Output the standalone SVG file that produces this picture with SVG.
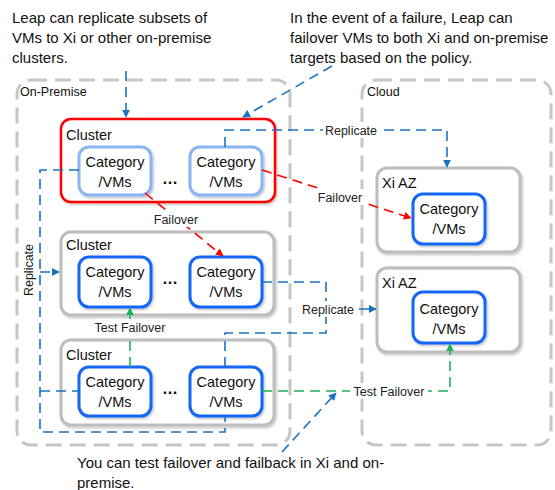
<svg xmlns="http://www.w3.org/2000/svg" width="555" height="490" viewBox="0 0 555 490">
<defs>
<style>
text{font-family:"Liberation Sans",Arial,sans-serif;fill:#111}
.note{font-size:15px}
.area{fill:none;stroke:#c6c6c6;stroke-width:3;stroke-dasharray:16 8}
.alabel{font-size:12.5px}
.cl{fill:#fff;stroke:#bdbdbd;stroke-width:3;filter:url(#sh)}
.clred{fill:#fff;stroke:#ff0000;stroke-width:2.5;filter:url(#sh)}
.vm{fill:#fff;stroke:#1466f5;stroke-width:3;filter:url(#sh)}
.vml{fill:#fff;stroke:#8ab4f2;stroke-width:3;filter:url(#sh)}
.t14{font-size:14.5px}
.ctr{text-anchor:middle}
.dots{font-size:16px;font-weight:bold;text-anchor:middle}
.b{fill:none;stroke:#1a73c2;stroke-width:1.6;stroke-dasharray:10 6}
.r{fill:none;stroke:#ff0000;stroke-width:1.6;stroke-dasharray:10 6}
.g{fill:none;stroke:#1db356;stroke-width:1.6;stroke-dasharray:10 6}
.lbl{font-size:12.5px;text-anchor:middle;fill:#222}
.bg{fill:#fff}
</style>
<filter id="sh" x="-10%" y="-10%" width="125%" height="130%">
<feDropShadow dx="1.2" dy="1.5" stdDeviation="1" flood-color="#000" flood-opacity="0.25"/>
</filter>
<marker id="ab" viewBox="0 0 10 10" refX="9" refY="5" markerWidth="8" markerHeight="8" markerUnits="userSpaceOnUse" orient="auto"><path d="M0,0 L10,5 L0,10 z" fill="#1a73c2"/></marker>
<marker id="ar" viewBox="0 0 10 10" refX="9" refY="5" markerWidth="8" markerHeight="8" markerUnits="userSpaceOnUse" orient="auto"><path d="M0,0 L10,5 L0,10 z" fill="#ff0000"/></marker>
<marker id="ag" viewBox="0 0 10 10" refX="9" refY="5" markerWidth="8" markerHeight="8" markerUnits="userSpaceOnUse" orient="auto"><path d="M0,0 L10,5 L0,10 z" fill="#1db356"/></marker>
</defs>

<g id="notes">
<text class="note" x="12" y="23">Leap can replicate subsets of</text>
<text class="note" x="12" y="43">VMs to Xi or other on-premise</text>
<text class="note" x="12" y="63">clusters.</text>
<text class="note" x="290" y="23">In the event of a failure, Leap can</text>
<text class="note" x="290" y="43">failover VMs to both Xi and on-premise</text>
<text class="note" x="290" y="63">targets based on the policy.</text>
<text class="note" x="77" y="468">You can test failover and failback in Xi and on-</text>
<text class="note" x="77" y="488">premise.</text>
</g>

<g id="on-premise">
<rect class="area" x="17" y="80" width="273" height="365" rx="14"/>
<text class="alabel" x="20" y="96">On-Premise</text>
</g>
<g id="cloud">
<rect class="area" x="362" y="80" width="189" height="365" rx="14"/>
<text class="alabel" x="367" y="96">Cloud</text>
</g>

<g id="cluster1">
<rect class="clred" x="61" y="119" width="214" height="83" rx="10"/>
<text class="t14" x="66" y="140">Cluster</text>
<rect class="vml" x="79" y="147" width="72" height="48" rx="10"/>
<text class="t14 ctr" x="115" y="167">Category</text>
<text class="t14 ctr" x="115" y="187">/VMs</text>
<text class="dots" x="170" y="184">…</text>
<rect class="vml" x="190" y="147" width="72" height="48" rx="10"/>
<text class="t14 ctr" x="226" y="167">Category</text>
<text class="t14 ctr" x="226" y="187">/VMs</text>
</g>

<g id="cluster2">
<rect class="cl" x="61" y="232" width="213" height="83" rx="10"/>
<text class="t14" x="66" y="250">Cluster</text>
<rect class="vm" x="79" y="257" width="72" height="50" rx="10"/>
<text class="t14 ctr" x="115" y="277">Category</text>
<text class="t14 ctr" x="115" y="297">/VMs</text>
<text class="dots" x="170" y="284">…</text>
<rect class="vm" x="190" y="257" width="72" height="50" rx="10"/>
<text class="t14 ctr" x="226" y="277">Category</text>
<text class="t14 ctr" x="226" y="297">/VMs</text>
</g>

<g id="cluster3">
<rect class="cl" x="61" y="340" width="213" height="85" rx="10"/>
<text class="t14" x="66" y="360">Cluster</text>
<rect class="vm" x="79" y="367" width="72" height="49" rx="10"/>
<text class="t14 ctr" x="115" y="387">Category</text>
<text class="t14 ctr" x="115" y="407">/VMs</text>
<text class="dots" x="170" y="394">…</text>
<rect class="vm" x="190" y="367" width="72" height="49" rx="10"/>
<text class="t14 ctr" x="226" y="387">Category</text>
<text class="t14 ctr" x="226" y="407">/VMs</text>
</g>

<g id="xiaz1">
<rect class="cl" x="377" y="168" width="143" height="84" rx="10"/>
<text class="t14" x="382" y="188">Xi AZ</text>
<rect class="vm" x="413" y="194" width="72" height="50" rx="10"/>
<text class="t14 ctr" x="449" y="214">Category</text>
<text class="t14 ctr" x="449" y="234">/VMs</text>
</g>

<g id="xiaz2">
<rect class="cl" x="377" y="268" width="143" height="84" rx="10"/>
<text class="t14" x="382" y="288">Xi AZ</text>
<rect class="vm" x="413" y="292" width="72" height="51" rx="10"/>
<text class="t14 ctr" x="449" y="314">Category</text>
<text class="t14 ctr" x="449" y="334">/VMs</text>
</g>

<g id="connectors">
<path class="b" d="M126,71 V117" marker-end="url(#ab)"/>
<path class="b" d="M332,66 L243,117" marker-end="url(#ab)"/>
<path class="b" d="M225,147 V130 H447 V167" marker-end="url(#ab)"/>
<rect class="bg" x="323" y="122" width="56" height="16"/>
<text class="lbl" x="351" y="134.5">Replicate</text>

<path class="r" d="M262,170 L411,218" marker-end="url(#ar)"/>
<rect class="bg" x="316" y="189" width="48" height="16"/>
<text class="lbl" x="340" y="201.5">Failover</text>

<path class="r" d="M145,193 L223,256" marker-end="url(#ar)"/>
<rect class="bg" x="152" y="211" width="48" height="16"/>
<text class="lbl" x="176" y="223.5">Failover</text>

<path class="b" d="M79,170 H40 V432 H225 V416"/>
<path class="b" d="M40,272 H59" marker-end="url(#ab)"/>
<path class="b" d="M40,391 H79"/>
<text class="lbl" transform="translate(33,270) rotate(-90)">Replicate</text>

<path class="b" d="M262,282 H326 V333 H225 V367"/>
<rect class="bg" x="300" y="301" width="56" height="16"/>
<text class="lbl" x="328" y="313.5">Replicate</text>
<path class="b" d="M359,309 H376" marker-end="url(#ab)"/>

<path class="g" d="M130,367 V308" marker-end="url(#ag)"/>
<rect class="bg" x="93" y="319" width="74" height="16"/>
<text class="lbl" x="130" y="331.5">Test Failover</text>

<path class="g" d="M262,391 H450 V344" marker-end="url(#ag)"/>
<rect class="bg" x="350" y="383" width="78" height="16"/>
<text class="lbl" x="389" y="395.5">Test Failover</text>

<path class="b" d="M282,452 L336,393" marker-end="url(#ab)"/>
</g>
</svg>
